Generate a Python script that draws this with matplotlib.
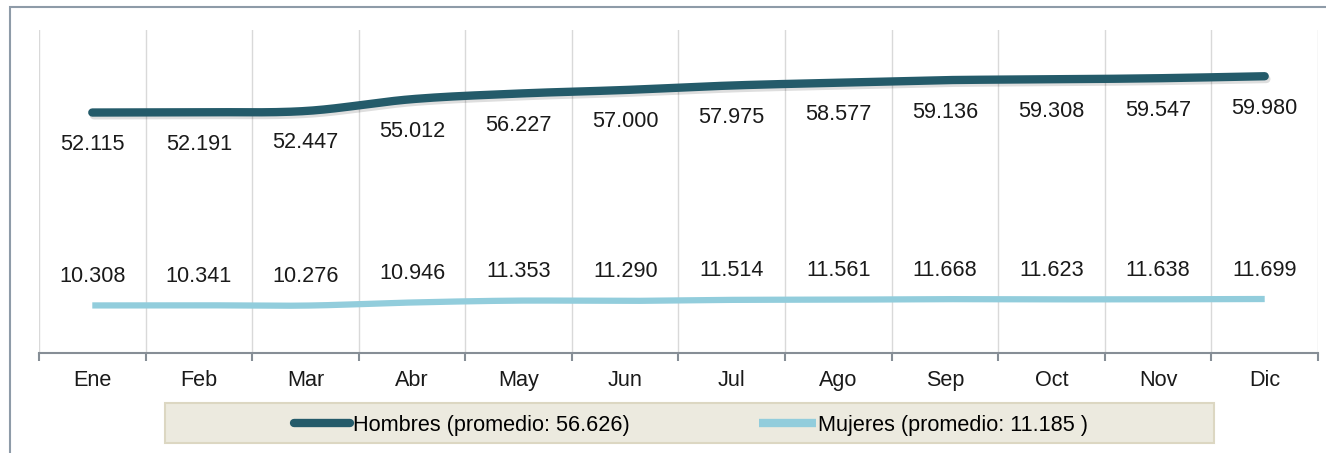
import numpy as np
import matplotlib
matplotlib.use('Agg')
import matplotlib.pyplot as plt
import matplotlib.patches as patches
import matplotlib.patheffects as pe
from matplotlib.lines import Line2D

plt.rcParams['font.family'] = ['Liberation Sans', 'DejaVu Sans']

# datos
meses = ['Ene', 'Feb', 'Mar', 'Abr', 'May', 'Jun', 'Jul', 'Ago', 'Sep', 'Oct', 'Nov', 'Dic']
hombres = [52.115, 52.191, 52.447, 55.012, 56.227, 57.000, 57.975, 58.577, 59.136, 59.308, 59.547, 59.980]
mujeres = [10.308, 10.341, 10.276, 10.946, 11.353, 11.290, 11.514, 11.561, 11.668, 11.623, 11.638, 11.699]
etiqueta_h = 'Hombres (promedio: 56.626)'
etiqueta_m = 'Mujeres (promedio: 11.185 )'

c_h = '#245B6A'
c_m = '#92CDDC'
fs = 15.6


def suavizar(x, y, n=30, t=0.5):
    # curva suavizada tipo Excel (spline cardinal) entre los puntos
    x = np.asarray(x, float)
    y = np.asarray(y, float)
    px = np.concatenate([[x[0]], x, [x[-1]]])
    py = np.concatenate([[y[0]], y, [y[-1]]])
    xs, ys = [], []
    s = np.linspace(0, 1, n)
    for i in range(1, len(px) - 2):
        m1x = t * (px[i + 1] - px[i - 1]); m1y = t * (py[i + 1] - py[i - 1])
        m2x = t * (px[i + 2] - px[i]); m2y = t * (py[i + 2] - py[i])
        h00 = 2 * s**3 - 3 * s**2 + 1
        h10 = s**3 - 2 * s**2 + s
        h01 = -2 * s**3 + 3 * s**2
        h11 = s**3 - s**2
        xs.append(h00 * px[i] + h10 * m1x + h01 * px[i + 1] + h11 * m2x)
        ys.append(h00 * py[i] + h10 * m1y + h01 * py[i + 1] + h11 * m2y)
    return np.concatenate(xs), np.concatenate(ys)


fig = plt.figure(figsize=(13.26, 4.53), dpi=100)
ax = fig.add_axes([39 / 1326, 1 - 353 / 453, (1318 - 39) / 1326, (353 - 30) / 453])

# marco exterior
fig.add_artist(patches.Rectangle((10 / 1326, -0.1), 1.2, 1 - 7 / 453 + 0.1, transform=fig.transFigure,
                                 fill=False, edgecolor='#8E9BA8', linewidth=1.5))

x = np.arange(len(meses))
xh, yh = suavizar(x, hombres)
xm, ym = suavizar(x, mujeres)

ax.plot(xh, yh, color=c_h, linewidth=6, solid_capstyle='round', zorder=3,
        path_effects=[pe.SimpleLineShadow(offset=(1.2, -2), shadow_color='black', alpha=0.13),
                      pe.Normal()])
ax.plot(xm, ym, color=c_m, linewidth=4.5, solid_capstyle='butt', zorder=3)

for i in x:
    ax.annotate(f'{hombres[i]:.3f}', (i, hombres[i]), xytext=(0, -32), textcoords='offset pixels',
                ha='center', va='center', fontsize=fs, color='#1a1a1a')
    ax.annotate(f'{mujeres[i]:.3f}', (i, mujeres[i]), xytext=(0, 29), textcoords='offset pixels',
                ha='center', va='center', fontsize=fs, color='#1a1a1a')

ax.set_xlim(-0.5, 11.5)
ax.set_ylim(0, 70)
ax.set_xticks(x)
ax.set_xticklabels(meses, fontsize=fs, color='#1a1a1a')
ax.set_xticks(np.arange(-0.5, 12, 1), minor=True)
ax.tick_params(axis='x', which='major', length=0, pad=12.5)
ax.tick_params(axis='x', which='minor', length=6, width=1.5, color='#868E96', direction='out')
ax.set_yticks([])
ax.grid(axis='x', which='minor', color='#D9D9D9', linewidth=1)
for s in ['top', 'right', 'left']:
    ax.spines[s].set_visible(False)
ax.spines['bottom'].set_color('#868E96')
ax.spines['bottom'].set_linewidth(1.5)

# leyenda
fig.add_artist(patches.Rectangle((165 / 1326, 1 - 443 / 453), (1214 - 165) / 1326, 40 / 453,
                                 transform=fig.transFigure, facecolor='#ECEADF', edgecolor='#DCD7C2',
                                 linewidth=1.5))
handles = [Line2D([], [], color=c_h, linewidth=6, solid_capstyle='round'),
           Line2D([], [], color=c_m, linewidth=6, solid_capstyle='butt')]
fig.legend(handles, [etiqueta_h, etiqueta_m], loc='center', bbox_to_anchor=(691 / 1326, 1 - 425 / 453),
           ncol=2, frameon=False, fontsize=fs, handlelength=2.6, handletextpad=0.1, columnspacing=6.0)

plt.savefig('out.png', dpi=100)
